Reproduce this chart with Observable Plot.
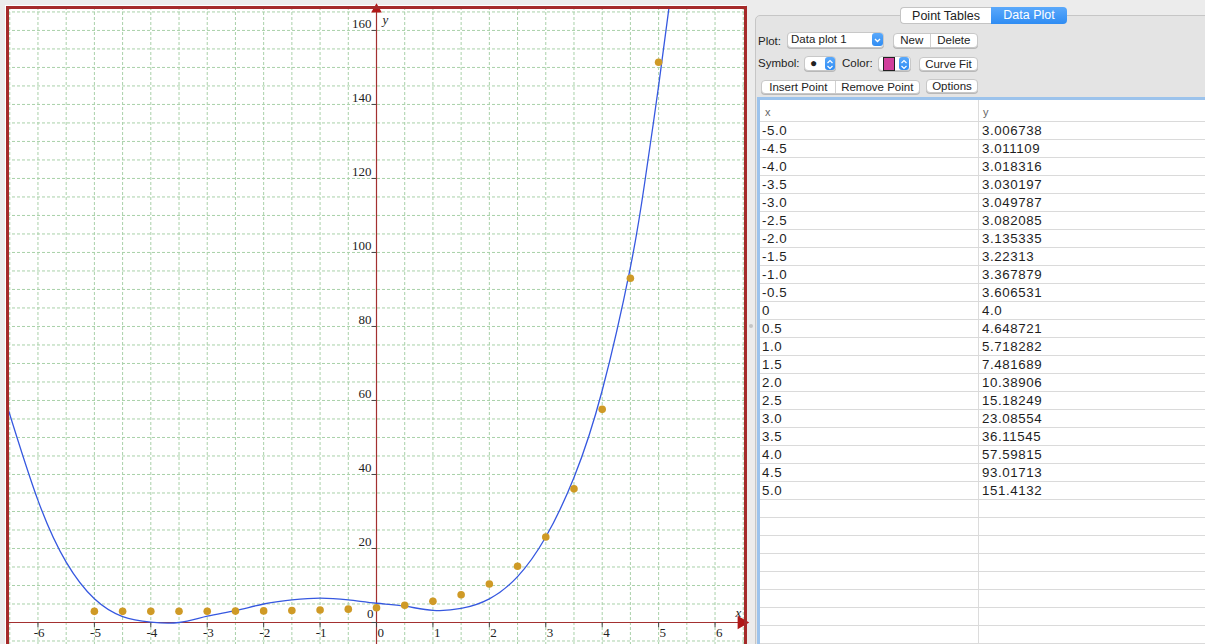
<!DOCTYPE html>
<html>
<head>
<meta charset="utf-8">
<script src="https://cdn.jsdelivr.net/npm/d3@7"></script>
<script src="https://cdn.jsdelivr.net/npm/@observablehq/plot@0.6"></script>
<style>
html,body{margin:0;padding:0;width:1205px;height:644px;overflow:hidden;background:#ececec;font-family:"Liberation Sans",Arial,sans-serif;color:#222;}
#chart{position:absolute;left:5px;top:5px;}
.abs{position:absolute;}
.tabbox{position:absolute;left:755px;top:15px;width:460px;height:640px;background:#e4e4e4;border:1px solid #c6c6c6;border-radius:5px;}
.seg{position:absolute;top:7px;left:900px;height:17px;display:flex;font-size:12.5px;line-height:17px;}
.seg .a{width:91px;background:#fff;border:1px solid #c4c4c4;border-right:none;border-radius:4px 0 0 4px;text-align:center;box-sizing:border-box;}
.seg .b{width:76px;background:linear-gradient(#5aa9fb,#2f8cf3);color:#fff;border-radius:0 4px 4px 0;text-align:center;}
.lbl{position:absolute;font-size:11.5px;line-height:14px;}
.btn{position:absolute;background:#fff;border:1px solid #c8c8c8;border-radius:4px;box-shadow:0 1px 0 #b8b8b8;box-sizing:border-box;font-size:11.5px;line-height:13px;text-align:center;display:flex;}
.btn div{flex:1;padding-top:0px;}
.btn .sep{flex:none;width:1px;background:#d0d0d0;}
.step{position:absolute;background:linear-gradient(#5aa9fb,#2f8cf3);border-radius:3px;}
#table{position:absolute;left:760px;top:100px;width:445px;height:544px;background:#fff;overflow:hidden;}
.focusL{position:absolute;left:757px;top:97px;width:3px;height:547px;background:#9cc3ec;}
.focusT{position:absolute;left:757px;top:97px;width:448px;height:3px;background:#9cc3ec;}
.hdr{position:absolute;top:0;height:22px;font-size:11px;line-height:24px;color:#666;}
.row{position:absolute;left:0;width:445px;height:18px;border-bottom:1px solid #dadada;box-sizing:border-box;font-size:13.3px;line-height:18px;letter-spacing:0.6px;color:#1e1e1e;}
.row span{position:absolute;}
.coldiv{position:absolute;left:218px;top:0;width:1px;height:544px;background:#dcdcdc;}
</style>
</head>
<body>
<div id="chart"></div>

<div class="tabbox"></div>
<div class="seg"><div class="a">Point Tables</div><div class="b">Data Plot</div></div>

<div class="lbl" style="left:758px;top:34px;">Plot:</div>
<div class="btn" style="left:787px;top:32px;width:97px;height:16px;text-align:left;"><div style="padding-left:3px;">Data plot 1</div></div>
<div class="step" style="left:872px;top:33px;width:11px;height:13px;"><svg width="11" height="13"><path d="M3 5 L5.5 7.5 L8 5" stroke="#fff" stroke-width="1.3" fill="none"/></svg></div>
<div class="btn" style="left:893px;top:33px;width:85px;height:15px;"><div>New</div><div class="sep"></div><div style="flex:1.3">Delete</div></div>

<div class="lbl" style="left:758px;top:56px;">Symbol:</div>
<div class="btn" style="left:804px;top:56px;width:32px;height:15px;"><div style="text-align:left;padding-left:5px;font-size:12px;">●</div></div>
<div class="step" style="left:825px;top:57px;width:10px;height:13px;"><svg width="10" height="13"><path d="M2.5 5 L5 2.5 L7.5 5 M2.5 8 L5 10.5 L7.5 8" stroke="#fff" stroke-width="1.2" fill="none"/></svg></div>
<div class="lbl" style="left:842px;top:56px;">Color:</div>
<div class="btn" style="left:878px;top:56px;width:33px;height:15px;"></div>
<div class="abs" style="left:883px;top:57px;width:10px;height:12px;background:#d13f9c;border:1px solid #222;"></div>
<div class="step" style="left:899px;top:57px;width:10px;height:13px;"><svg width="10" height="13"><path d="M2.5 5 L5 2.5 L7.5 5 M2.5 8 L5 10.5 L7.5 8" stroke="#fff" stroke-width="1.2" fill="none"/></svg></div>
<div class="btn" style="left:919px;top:57px;width:59px;height:14px;"><div>Curve Fit</div></div>

<div class="btn" style="left:761px;top:80px;width:159px;height:14px;"><div>Insert Point</div><div class="sep"></div><div style="flex:1.15">Remove Point</div></div>
<div class="btn" style="left:926px;top:79px;width:52px;height:14px;"><div>Options</div></div>

<div class="abs" style="left:749px;top:324px;width:4px;height:4px;border-radius:50%;background:#c4c4c4;"></div>

<div class="focusT"></div>
<div class="focusL"></div>
<div id="table">
  <div class="coldiv"></div>
  <div class="hdr" style="left:5px;">x</div>
  <div class="hdr" style="left:223px;">y</div>
  <div style="position:absolute;left:0;top:21px;width:445px;height:1px;background:#dadada;"></div>
</div>

<script>
// ---- data (from the table in the reference) ----
const xLabels = ["-5.0","-4.5","-4.0","-3.5","-3.0","-2.5","-2.0","-1.5","-1.0","-0.5","0","0.5","1.0","1.5","2.0","2.5","3.0","3.5","4.0","4.5","5.0"];
const yLabels = ["3.006738","3.011109","3.018316","3.030197","3.049787","3.082085","3.135335","3.22313","3.367879","3.606531","4.0","4.648721","5.718282","7.481689","10.38906","15.18249","23.08554","36.11545","57.59815","93.01713","151.4132"];

// ---- fitted curve ----
const curveX = [-6.54,-6,-5.5,-5,-4.5,-4,-3.5,-3,-2.5,-2,-1.5,-1,-0.5,0,0.5,1,1.5,2,2.5,3,3.5,4,4.5,4.75,5,5.2];
const curveY = [58.2,33.0,16.3,6.4,1.6,0.1,0.0,1.7,3.2,5.0,6.1,6.6,6.1,5.2,4.4,3.3,3.8,6.4,12.4,23.1,39.2,62.7,96.0,118.5,145,168];

// ---- axes ----
const xTicks = [-6,-5,-4,-3,-2,-1,0,1,2,3,4,5,6];
const yTicks = [0,20,40,60,80,100,120,140,160];
const xDomain = [-6.54, 6.54];
const yDomain = [-10.27, 166.2];
const gridXValues = d3.range(-6.5, 6.51, 0.5);
const gridYValues = d3.range(-10, 166, 5);

const points = xLabels.map((d, i) => ({x: +d, y: +yLabels[i]}));
const curve = curveX.map((d, i) => ({x: d, y: curveY[i]}));

const axisColor = "#a33030";
const frameColor = "#a52a2a";
const gridColor = "#a9d1a9";

const chart = Plot.plot({
  width: 741,
  height: 655,
  marginLeft: 2,
  marginRight: 1,
  marginTop: 2,
  marginBottom: 0,
  x: {domain: xDomain, axis: null},
  y: {domain: yDomain, axis: null},
  style: {background: "#fff", fontFamily: "'Liberation Serif', 'Times New Roman', serif", fontSize: "13px", color: "#222", overflow: "visible"},
  marks: [
    Plot.gridX(gridXValues, {stroke: gridColor, strokeOpacity: 1, strokeDasharray: "3,2"}),
    Plot.gridY(gridYValues, {stroke: gridColor, strokeOpacity: 1, strokeDasharray: "3,2"}),
    Plot.ruleY([0], {stroke: axisColor, strokeWidth: 1.2}),
    Plot.ruleX([0], {stroke: axisColor, strokeWidth: 1.2}),
    Plot.ruleX(xTicks, {y1: 0, y2: -1.4, stroke: "#444", strokeWidth: 1}),
    Plot.ruleY(yTicks, {x1: -0.08, x2: 0, stroke: "#444", strokeWidth: 1}),
    Plot.text(xTicks.filter(d => d < 0), {x: d => d, y: 0, text: d => String(d), textAnchor: "start", dx: -4.3, dy: 10, fill: "#222"}),
    Plot.text(xTicks.filter(d => d >= 0), {x: d => d, y: 0, text: d => String(d), textAnchor: "start", dx: 1, dy: 10, fill: "#222"}),
    Plot.text(yTicks.filter(d => d > 0), {x: 0, y: d => d, text: d => String(d), textAnchor: "end", dx: -5, dy: -6.5, fill: "#222"}),
    Plot.text(yTicks.filter(d => d === 0), {x: 0, y: d => d, text: d => String(d), textAnchor: "end", dx: -3, dy: -9, fill: "#222"}),
    Plot.text(["x"], {x: xDomain[1], y: 0, text: d => d, dx: -7, dy: -10, fontStyle: "italic", fill: "#222"}),
    Plot.text(["y"], {x: 0, y: yDomain[1], text: d => d, dx: 9, dy: 12, fontStyle: "italic", fill: "#222"}),
    Plot.line(curve, {x: "x", y: "y", stroke: "#3658e0", strokeWidth: 1.3, curve: "natural", clip: true}),
    Plot.dot(points, {x: "x", y: "y", r: 3.8, fill: "#cf9a26"}),
    Plot.dot([0], {x: xDomain[1], y: 0, symbol: "triangle", rotate: 90, r: 5, fill: "#b01818", dx: -4}),
    Plot.dot([0], {x: 0, y: yDomain[1], symbol: "triangle", r: 4, fill: "#b01818", dy: 2}),
    Plot.frame({stroke: frameColor, strokeWidth: 3})
  ]
});
document.getElementById("chart").appendChild(chart);

// ---- table rows ----
const table = document.getElementById("table");
const nRows = 29;
for (let i = 0; i < nRows; i++) {
  const row = document.createElement("div");
  row.className = "row";
  row.style.top = (22 + i * 18) + "px";
  if (i < xLabels.length) {
    const a = document.createElement("span"); a.style.left = "2px"; a.textContent = xLabels[i];
    const b = document.createElement("span"); b.style.left = "222px"; b.textContent = yLabels[i];
    row.appendChild(a); row.appendChild(b);
  }
  table.appendChild(row);
}
</script>
</body>
</html>
